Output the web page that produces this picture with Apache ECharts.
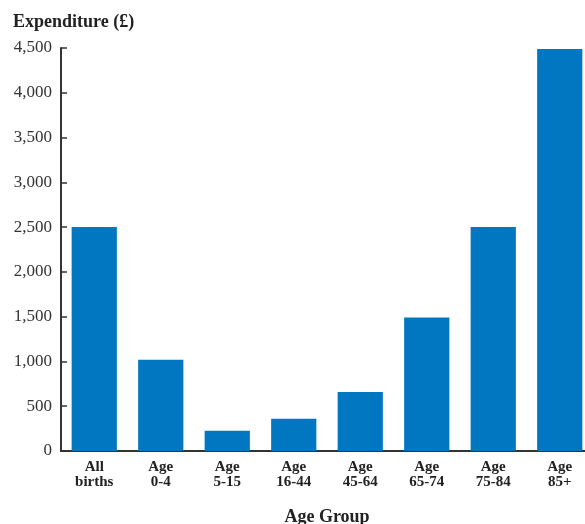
<!DOCTYPE html>
<html>
<head>
<meta charset="utf-8">
<script src="https://cdn.jsdelivr.net/npm/echarts@6/dist/echarts.min.js"></script>
<style>
  html, body { margin: 0; padding: 0; background: #fff; }
  #chart { width: 585px; height: 524px; }
</style>
</head>
<body>
<div id="chart"></div>
<script>
// Spending per head by age group
const categories = ['All\nbirths', 'Age\n0-4', 'Age\n5-15', 'Age\n16-44', 'Age\n45-64', 'Age\n65-74', 'Age\n75-84', 'Age\n85+'];
const expenditure = [2500, 1020, 225, 360, 660, 1490, 2500, 4490];
const yTicks = [0, 500, 1000, 1500, 2000, 2500, 3000, 3500, 4000, 4500];

const serif = '"Liberation Serif", "DejaVu Serif", serif';
const axisColor = '#333';

const chart = echarts.init(document.getElementById('chart'));
chart.setOption({
  animation: false,
  title: {
    text: 'Expenditure (£)',
    left: 8,
    top: 8,
    textStyle: { fontFamily: serif, fontWeight: 'bold', fontSize: 18, color: '#222' }
  },
  // plot area runs slightly past the right edge of the canvas
  grid: { left: 61, top: 48, width: 532, height: 403, outerBoundsMode: 'none', containLabel: false },
  xAxis: {
    type: 'category',
    data: categories,
    name: 'Age Group',
    nameLocation: 'middle',
    nameGap: 57,
    nameTextStyle: { fontFamily: serif, fontWeight: 'bold', fontSize: 18, color: '#222' },
    axisLine: { lineStyle: { color: axisColor, width: 2 } },
    axisTick: { inside: true, length: 7, lineStyle: { color: axisColor, width: 1.5 } },
    axisLabel: {
      fontFamily: serif, fontWeight: 'bold', fontSize: 15, color: '#222',
      lineHeight: 15, margin: 9
    }
  },
  yAxis: {
    type: 'value',
    min: yTicks[0],
    max: yTicks[yTicks.length - 1],
    interval: 500,
    axisLine: { show: true, lineStyle: { color: axisColor, width: 2 } },
    axisTick: { show: true, inside: true, length: 6, lineStyle: { color: axisColor, width: 1.5 } },
    splitLine: { show: false },
    axisLabel: {
      fontFamily: serif, fontSize: 17, color: '#333', margin: 9,
      formatter: v => v.toString().replace(/\B(?=(\d{3})+(?!\d))/g, ',')
    }
  },
  series: [{
    type: 'bar',
    data: expenditure,
    barCategoryGap: '32%',
    itemStyle: { color: '#0077C0' }
  }]
});
</script>
</body>
</html>
